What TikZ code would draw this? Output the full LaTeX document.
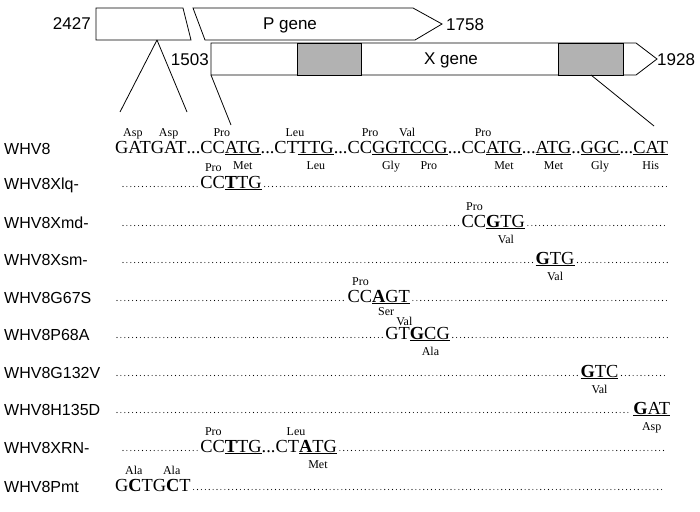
\documentclass[tikz,border=0pt]{standalone}
\usepackage{fontspec}
\setmainfont{Liberation Sans}
\newfontfamily\serf{Liberation Serif}
\usetikzlibrary{calc}
\newcommand\seqf{\serf\fontsize{18.4}{20}\selectfont}
\newcommand\aaf{\serf\fontsize{12}{13}\selectfont}
\newcommand\labf{\fontsize{16}{18}\selectfont}
\newcommand\genf{\fontsize{17}{19}\selectfont}
\begin{document}
\begin{tikzpicture}[x=1pt,y=-1pt,
  s/.style={font=\seqf,inner sep=0pt,outer sep=0pt,anchor=base west},
  aa/.style={font=\aaf,inner sep=0pt,anchor=base},
  lab/.style={font=\labf,inner sep=0pt,anchor=base west},
  gl/.style={font=\genf,inner sep=0pt},
  dl/.style={line width=1.1pt,line cap=round,dash pattern=on 0pt off 3.9pt},
  box/.style={draw,line width=0.8pt}]
\useasboundingbox (0,0) rectangle (700,511);
% gene map
\draw[box] (96,8) -- (183,8) -- (191,40) -- (96,40) -- cycle;
\draw[box] (193,8) -- (413,8) -- (442,24) -- (415,40) -- (205,40) -- cycle;
\draw[box] (211,43) -- (636,43) -- (657,59) -- (636,75) -- (211,75) -- cycle;
\fill[gray!60] (297,43) rectangle (361,75);
\fill[gray!60] (558,43) rectangle (623,75);
\draw[box] (297,43) rectangle (361,75);
\draw[box] (558,43) rectangle (623,75);
\node[gl,anchor=east] (n2427) at (91,24) {2427};
\node[gl] (pg) at (290,25) {P gene};
\node[gl,anchor=west] (n1758) at (446,25) {1758};
\node[gl,anchor=east] (n1503) at (209,60) {1503};
\node[gl] (xg) at (451,60) {X gene};
\node[gl,anchor=west] (n1928) at (657,60) {1928};
\draw[line width=0.8pt] (157,40) -- (120,112);
\draw[line width=0.8pt] (157,40) -- (187,112);
\draw[line width=0.8pt] (211,75) -- (231,125);
\draw[line width=0.8pt] (591,75) -- (654,126);
% row labels
\foreach \t/\y in {WHV8/154,WHV8Xlq-/189,WHV8Xmd-/228,WHV8Xsm-/265,WHV8G67S/303,WHV8P68A/340,WHV8G132V/378,WHV8H135D/415,WHV8XRN-/453,WHV8Pmt/492}
  \node[lab] (l\t) at (4,\y) {\t};
% WHV8 row
\node[s] (a1) at (115,153) {GAT};
\node[s] (a2) at (a1.base east) {GAT};
\node[s] (a3) at (a2.base east) {...};
\node[s] (a4) at (a3.base east) {CC};
\node[s] (a5) at (a4.base east) {\underline{ATG}};
\node[s] (a6) at (a5.base east) {...CT};
\node[s] (a7) at (a6.base east) {\underline{TTG}};
\node[s] (a8) at (a7.base east) {...};
\node[s] (a9) at (a8.base east) {CC};
\node[s] (a10) at (a9.base east) {\underline{G}};
\node[s] (a11) at (a10.base east) {\underline{GTCCG}};
\node[s] (a12) at (a11.base east) {...};
\node[s] (a13) at (a12.base east) {CC};
\node[s] (a14) at (a13.base east) {\underline{ATG}};
\node[s] (a15) at (a14.base east) {...};
\node[s] (a16) at (a15.base east) {\underline{ATG}};
\node[s] (a17) at (a16.base east) {..};
\node[s] (a18) at (a17.base east) {\underline{GGC}};
\node[s] (a19) at (a18.base east) {...};
\node[s] (a20) at (a19.base east) {\underline{CAT}};
\node[aa] at ($(a1.base)+(0,-17)$) {Asp};
\node[aa] at ($(a2.base)+(0,-17)$) {Asp};
\node[aa] at ($(a4.base east)+(-3,-17)$) {Pro};
\node[aa] at ($(a5.base)+(0,16)$) {Met};
\node[aa] at ($(a6.base east)+(-3,-17)$) {Leu};
\node[aa] at ($(a7.base)+(0,16)$) {Leu};
\node[aa] at ($(a9.base east)+(-2,-17)$) {Pro};
\node[aa] at ($(a11.base west)!0.35!(a11.base east)+(0,-17)$) {Val};
\node[aa] at ($(a10.base west)!0.25!(a11.base east)+(0,16)$) {Gly};
\node[aa] at ($(a10.base west)!0.75!(a11.base east)+(0,16)$) {Pro};
\node[aa] at ($(a13.base east)+(-3,-17)$) {Pro};
\node[aa] at ($(a14.base)+(0,16)$) {Met};
\node[aa] at ($(a16.base)+(0,16)$) {Met};
\node[aa] at ($(a18.base)+(0,16)$) {Gly};
\node[aa] at ($(a20.base)+(0,16)$) {His};
% Xlq
\node[s] (b1) at ($(a4.base west)+(0,35)$) {CC\underline{\textbf{T}TG}};
\node[aa] at ($(b1.base west)+(13,-17)$) {Pro};
\draw[dl] (123,186.5) -- ($(b1.base west)+(-3,-1.5)$);
\draw[dl] ($(b1.base east)+(3,-1.5)$) -- (668,186.5);
% Xmd
\node[s] (c1) at ($(a13.base west)+(0,74)$) {CC\underline{\textbf{G}TG}};
\node[aa] at ($(c1.base west)+(13,-17)$) {Pro};
\node[aa] at ($(c1.base west)!0.7!(c1.base east)+(0,16)$) {Val};
\draw[dl] (123,225.5) -- ($(c1.base west)+(-3,-1.5)$);
\draw[dl] ($(c1.base east)+(3,-1.5)$) -- (668,225.5);
% Xsm
\node[s] (d1) at ($(a16.base west)+(0,111)$) {\underline{\textbf{G}TG}};
\node[aa] at ($(d1.base)+(0,16)$) {Val};
\draw[dl] (123,262.5) -- ($(d1.base west)+(-3,-1.5)$);
\draw[dl] ($(d1.base east)+(3,-1.5)$) -- (668,262.5);
% G67S
\node[s] (e1) at ($(a9.base west)+(0,149)$) {CC\underline{\textbf{A}GT}};
\node[aa] at ($(e1.base west)+(13,-17)$) {Pro};
\node[aa] at ($(e1.base west)!0.62!(e1.base east)+(0,13)$) {Ser};
\draw[dl] (117,300.5) -- ($(e1.base west)+(-3,-1.5)$);
\draw[dl] ($(e1.base east)+(3,-1.5)$) -- (668,300.5);
% P68A
\node[s] (f1) at ($(a11.base west)+(0,186)$) {GT\underline{\textbf{G}CG}};
\node[aa] at ($(f1.base west)+(19,-14)$) {Val};
\node[aa] at ($(f1.base west)!0.7!(f1.base east)+(0,16)$) {Ala};
\draw[dl] (117,337.5) -- ($(f1.base west)+(-3,-1.5)$);
\draw[dl] ($(f1.base east)+(3,-1.5)$) -- (668,337.5);
% G132V
\node[s] (g1) at ($(a18.base west)+(0,224)$) {\underline{\textbf{G}TC}};
\node[aa] at ($(g1.base)+(0,16)$) {Val};
\draw[dl] (117,375.5) -- ($(g1.base west)+(-3,-1.5)$);
\draw[dl] ($(g1.base east)+(3,-1.5)$) -- (666,375.5);
% H135D
\node[s] (h1) at ($(a20.base west)+(0,261)$) {\underline{\textbf{G}AT}};
\node[aa] at ($(h1.base)+(0,16)$) {Asp};
\draw[dl] (117,412.5) -- ($(h1.base west)+(-3,-1.5)$);
% XRN
\node[s] (i1) at ($(a4.base west)+(0,299)$) {CC\underline{\textbf{T}TG}};
\node[s] (i2) at (i1.base east) {...CT};
\node[s] (i3) at (i2.base east) {\underline{\textbf{A}TG}};
\node[aa] at ($(i1.base west)+(13,-17)$) {Pro};
\node[aa] at ($(i2.base east)+(-3,-17)$) {Leu};
\node[aa] at ($(i3.base)+(0,16)$) {Met};
\draw[dl] (123,450.5) -- ($(i1.base west)+(-3,-1.5)$);
\draw[dl] ($(i3.base east)+(3,-1.5)$) -- (664,450.5);
% Pmt
\node[s] (j1) at ($(a1.base west)+(0,338)$) {G\textbf{C}T};
\node[s] (j2) at (j1.base east) {G\textbf{C}T};
\node[aa] at ($(j1.base)+(0,-17)$) {Ala};
\node[aa] at ($(j2.base)+(0,-17)$) {Ala};
\draw[dl] ($(j2.base east)+(3,-1.5)$) -- (664,489.5);
\end{tikzpicture}
\end{document}
